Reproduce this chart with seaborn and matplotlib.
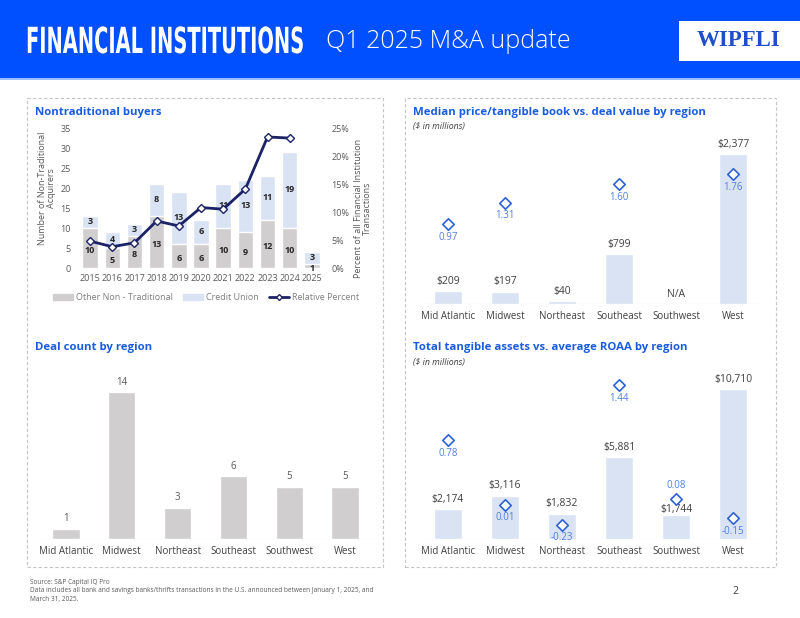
import numpy as np
import pandas as pd
import matplotlib
matplotlib.use("Agg")
import matplotlib.pyplot as plt
import seaborn as sns
from matplotlib.patches import Rectangle, Patch
from matplotlib.lines import Line2D
from matplotlib.patheffects import AbstractPathEffect
from matplotlib.transforms import Affine2D
from matplotlib.ticker import FuncFormatter

# ---- data ----
years = ['2015', '2016', '2017', '2018', '2019', '2020', '2021', '2022', '2023', '2024', '2025']
other_nt = [10, 5, 8, 13, 6, 6, 10, 9, 12, 10, 1]
credit_union = [3, 4, 3, 8, 13, 6, 11, 13, 11, 19, 3]
rel_pct = [4.8, 3.8, 4.5, 8.4, 7.5, 10.8, 10.5, 14.1, 23.4, 23.2]  # 2015-2024

regions = ['Mid Atlantic', 'Midwest', 'Northeast', 'Southeast', 'Southwest', 'West']
deal_value = [209, 197, 40, 799, np.nan, 2377]
price_tbv = [0.97, 1.31, np.nan, 1.60, np.nan, 1.76]
deal_count = [1, 14, 3, 6, 5, 5]
tang_assets = [2174, 3116, 1832, 5881, 1744, 10710]
roaa = [0.78, 0.01, -0.23, 1.44, 0.08, -0.15]

HEADER = '#0050FF'
TITLE_BLUE = '#1A5CE0'
GRAY_BAR = '#D0CECE'
LIGHT_BLUE = '#DAE3F3'
NAVY = '#1B2266'
DIAMOND = '#2E62D9'
DIAMOND_TXT = '#4F7FE0'
TXT = '#404040'

sns.set_theme(style='white')
plt.rcParams['font.family'] = ['Open Sans', 'DejaVu Sans']

W, H = 800, 618
fig = plt.figure(figsize=(8, 6.18), dpi=100)


def px(x0, y0, x1, y1):
    return [x0 / W, 1 - y1 / H, (x1 - x0) / W, (y1 - y0) / H]


def ftext(x, y, s, **kw):
    return fig.text(x / W, 1 - y / H, s, **kw)


class Stretch(AbstractPathEffect):
    # stretches glyphs vertically about the baseline (tall condensed headline face)
    def __init__(self, sy):
        super().__init__()
        self.sy = sy

    def draw_path(self, renderer, gc, tpath, affine, rgbFace=None):
        renderer.draw_path(gc, tpath, Affine2D().scale(1, self.sy) + affine, rgbFace)


# ---- header ----
fig.add_artist(Rectangle((0, 1 - 78 / H), 1, 78 / H, transform=fig.transFigure,
                         color=HEADER, lw=0, zorder=0))
fig.add_artist(Rectangle((0, 1 - 80 / H), 1, 2 / H, transform=fig.transFigure,
                         color='#9CBDFF', lw=0, zorder=0))
ftext(26, 53, 'FINANCIAL INSTITUTIONS', family=['DejaVu Sans'], weight='bold', size=14,
      color='white', ha='left', va='baseline', path_effects=[Stretch(1.85)])
ftext(326, 42, 'Q1 2025 M&A update', size=18, weight='light', color='white', va='center')
fig.add_artist(Rectangle((679 / W, 1 - 61 / H), 121 / W, 40 / H, transform=fig.transFigure,
                         color='white', lw=0))
ftext(739, 41, 'WIPFLI', family=['Liberation Serif'], weight='bold', size=16.5,
      color='#1F4FC8', ha='center', va='center')

# ---- panel frames ----
for x0, x1 in [(27, 383), (405, 776)]:
    fig.add_artist(Rectangle((x0 / W, 1 - 567 / H), (x1 - x0) / W, (567 - 98) / H,
                             transform=fig.transFigure, fill=False, ec='#C4C4C4',
                             lw=0.8, ls=(0, (3, 2))))


def clean(ax):
    for s in ax.spines.values():
        s.set_visible(False)
    ax.set_xlabel('')
    ax.set_ylabel('')
    ax.tick_params(length=0, labelsize=7, labelcolor=TXT)


# ---- Nontraditional buyers ----
ftext(35, 112, 'Nontraditional buyers', weight='bold', size=8.2, color=TITLE_BLUE, va='center')
ax = fig.add_axes(px(79, 128, 323, 268))
totals = [a + b for a, b in zip(other_nt, credit_union)]
sns.barplot(x=years, y=totals, color=LIGHT_BLUE, saturation=1, width=0.7, ax=ax)
sns.barplot(x=years, y=other_nt, color=GRAY_BAR, saturation=1, width=0.7, ax=ax)
clean(ax)
ax.set_ylim(0, 35)
ax.set_xlim(-0.5, 10.5)
ax.set_yticks(range(0, 36, 5))
ax.tick_params(axis='both', labelsize=6.5, labelcolor='#595959')
ax.tick_params(axis='y', pad=6)
ax.tick_params(axis='x', pad=4)
for i, (o, c) in enumerate(zip(other_nt, credit_union)):
    ax.annotate(str(o), (i, o / 2), xytext=(0, -1.5), textcoords='offset points',
                ha='center', va='center', size=6.5, weight='bold', color='#262626')
    ax.text(i, o + c / 2, str(c), ha='center', va='center', size=6.5, weight='bold', color='#262626')

ax2 = ax.twinx()
sns.lineplot(x=np.arange(len(rel_pct)), y=rel_pct, ax=ax2, color=NAVY, lw=2,
             marker='D', markersize=4.5, markerfacecolor='white',
             markeredgecolor=NAVY, markeredgewidth=1)
clean(ax2)
ax2.set_ylim(0, 25)
ax2.set_xlim(-0.5, 10.5)
ax2.set_yticks(range(0, 26, 5))
ax2.yaxis.set_major_formatter(FuncFormatter(lambda v, p: f'{v:.0f}%'))
ax2.tick_params(axis='y', labelsize=6.5, labelcolor='#595959', pad=6)

ftext(47, 188, 'Number of Non-Traditional\nAcquirers', rotation=90, ha='center', va='center',
      size=6.5, color='#595959', linespacing=1.0)
ftext(363, 208, 'Percent of all Financial Institution\nTransactions', rotation=90,
      ha='center', va='center', size=6.5, color='#595959', linespacing=1.0)

handles = [Patch(color=GRAY_BAR), Patch(color=LIGHT_BLUE),
           Line2D([], [], color=NAVY, lw=2, marker='D', markersize=3,
                  markerfacecolor='white', markeredgecolor=NAVY)]
fig.legend(handles, ['Other Non - Traditional', 'Credit Union', 'Relative Percent'],
           loc='center', bbox_to_anchor=(206 / W, 1 - 298 / H), ncol=3, frameon=False,
           fontsize=6.5, labelcolor='#7F7F7F', handlelength=2.2, handleheight=0.6,
           columnspacing=1.2, handletextpad=0.3)


def region_bars(rect, values, color, ymax, fmt, tight=()):
    a = fig.add_axes(px(*rect))
    df = pd.DataFrame({'region': regions, 'value': values})
    sns.barplot(data=df, x='region', y='value', order=regions, color=color,
                saturation=1, width=0.49, ax=a)
    clean(a)
    a.set_ylim(0, ymax)
    a.set_xlim(-0.5, 5.5)
    a.set_yticks([])
    a.axhline(0, color='#D9D9D9', lw=0.8)
    a.tick_params(axis='x', pad=5)
    for i, v in enumerate(values):
        lab = 'N/A' if pd.isna(v) else fmt(v)
        off = 0 if regions[i] in tight else 3
        a.annotate(lab, (i, 0 if pd.isna(v) else v), xytext=(0, off),
                   textcoords='offset points', ha='center', va='bottom',
                   size=7.5, color=TXT)
    return a


def diamonds(a, values, lo, hi, above=()):
    t = a.twinx()
    sns.scatterplot(x=np.arange(len(values)), y=values, ax=t, marker='D', s=34,
                    facecolor='white', edgecolor=DIAMOND, linewidth=1.2, zorder=5)
    clean(t)
    t.set_ylim(lo, hi)
    t.set_xlim(-0.5, 5.5)
    t.set_yticks([])
    for i, v in enumerate(values):
        if pd.isna(v):
            continue
        dy = 9.5 if regions[i] in above else -9.5
        t.annotate(f'{v:.2f}', (i, v), xytext=(0, dy), textcoords='offset points',
                   ha='center', va='center', size=7, color=DIAMOND_TXT)


# ---- Median price/tangible book ----
ftext(413, 112, 'Median price/tangible book vs. deal value by region', weight='bold',
      size=8.2, color=TITLE_BLUE, va='center')
ftext(413, 126, '($ in millions)', style='italic', size=6.3, color=TXT, va='center')
ax3 = region_bars((419.5, 140, 761.5, 304), deal_value, LIGHT_BLUE, 2604,
                  lambda v: f'${v:,.0f}')
diamonds(ax3, price_tbv, -0.281, 2.294)

# ---- Deal count ----
ftext(35, 347, 'Deal count by region', weight='bold', size=8.2, color=TITLE_BLUE, va='center')
ax4 = region_bars((38, 372, 373, 539), deal_count, GRAY_BAR, 15.93, lambda v: f'{v:.0f}')
for t in ax4.texts:
    t.set_color('#595959')
    t.set_fontsize(7)

# ---- Total tangible assets vs ROAA ----
ftext(413, 347, 'Total tangible assets vs. average ROAA by region', weight='bold',
      size=8.2, color=TITLE_BLUE, va='center')
ftext(413, 362, '($ in millions)', style='italic', size=6.3, color=TXT, va='center')
ax5 = region_bars((419.5, 370, 761.5, 539.3), tang_assets, LIGHT_BLUE, 12088,
                  lambda v: f'${v:,.0f}', tight=('Southwest',))
diamonds(ax5, roaa, -0.404, 1.621, above=('Southwest',))

# ---- footer ----
ftext(30, 582, 'Source: S&P Capital IQ Pro', size=4.7, color='#595959', va='center')
ftext(30, 591, 'Data includes all bank and savings banks/thrifts transactions in the U.S. '
      'announced between January 1, 2025, and', size=4.7, color='#595959', va='center')
ftext(30, 599, 'March 31, 2025.', size=4.7, color='#595959', va='center')
ftext(735, 591, '2', size=7.5, color='#404040', ha='center', va='center')

fig.savefig('out.png', dpi=100)
